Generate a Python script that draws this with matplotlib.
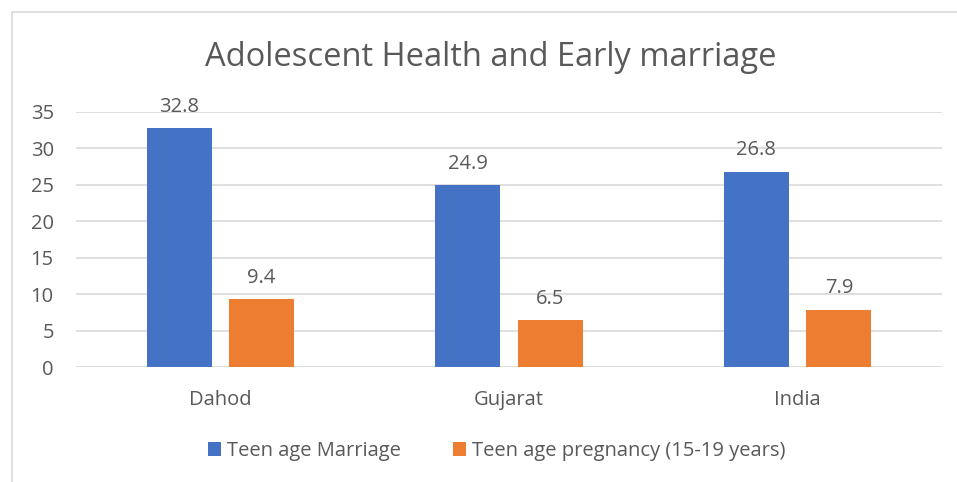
import matplotlib.pyplot as plt
import numpy as np
from matplotlib.patches import Rectangle

categories = ['Dahod', 'Gujarat', 'India']
teen_marriage = [32.8, 24.9, 26.8]
teen_pregnancy = [9.4, 6.5, 7.9]
series_names = ['Teen age Marriage', 'Teen age pregnancy (15-19 years)']

plt.rcParams['font.family'] = ['Open Sans', 'DejaVu Sans']
text_color = '#595959'
fs = 14.5

fig = plt.figure(figsize=(9.57, 4.82), dpi=100)

# chart border like the office chart frame
fig.patches.append(Rectangle((12 / 957, -0.01), 1.0, 1 - 12 / 482 + 0.01,
                             transform=fig.transFigure, fill=False,
                             edgecolor='#D9D9D9', linewidth=1.2))

ax = fig.add_axes([76 / 957, 1 - 367.3 / 482, (942 - 76) / 957, 255.6 / 482])

x = np.arange(len(categories))
width = 0.225
offset = 0.143
b1 = ax.bar(x - offset, teen_marriage, width, color='#4472C4', label=series_names[0], zorder=3)
b2 = ax.bar(x + offset, teen_pregnancy, width, color='#ED7D31', label=series_names[1], zorder=3)

for bars in (b1, b2):
    ax.bar_label(bars, fmt='%.1f', padding=8, fontsize=fs, color=text_color)

ax.set_xlim(-0.5, 2.5)
ax.set_ylim(0, 35)
ax.set_yticks(range(0, 36, 5))
ax.set_xticks(x)
ax.set_xticklabels(categories)
ax.tick_params(axis='both', length=0, labelsize=fs, labelcolor=text_color)
ax.tick_params(axis='x', pad=16)
ax.tick_params(axis='y', pad=16)

ax.grid(axis='y', color='#D9D9D9', linewidth=1.2, zorder=0)
for s in ax.spines.values():
    s.set_visible(False)

fig.text(491 / 957, 1 - 57 / 482, 'Adolescent Health and Early marriage',
         ha='center', va='center', fontsize=23.5, color=text_color)

fig.legend(loc='center', bbox_to_anchor=(497 / 957, 1 - 451 / 482), ncol=2,
           frameon=False, fontsize=fs, labelcolor=text_color,
           handlelength=0.65, handleheight=0.65, handletextpad=0.3, columnspacing=2.6)

fig.savefig('out.png', dpi=100)
